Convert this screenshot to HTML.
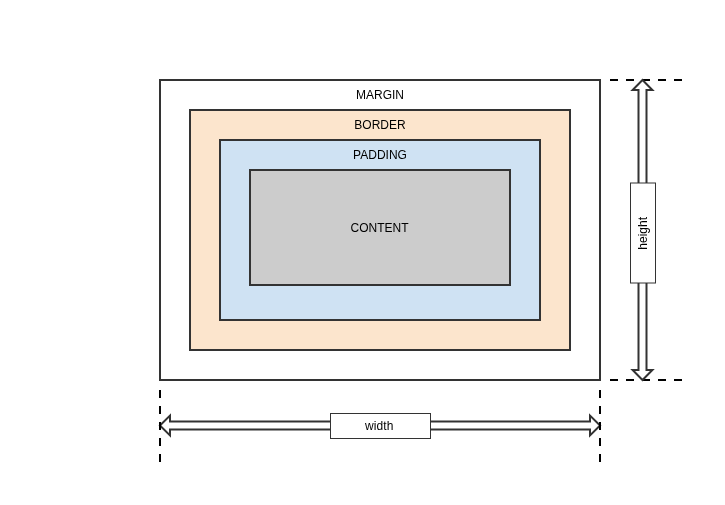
<!DOCTYPE html>
<html>
<head>
<meta charset="utf-8">
<title>Box model</title>
<style>
html,body{margin:0;padding:0;background:#ffffff;}
body{width:725px;height:505px;overflow:hidden;font-family:"Liberation Sans",sans-serif;}
svg{display:block;will-change:transform;}
text{font-family:"Liberation Sans",sans-serif;font-size:12px;fill:#000000;}
</style>
</head>
<body>
<svg width="725" height="505" viewBox="0 0 725 505">
  <rect x="0" y="0" width="725" height="505" fill="#ffffff"/>
  <!-- margin -->
  <rect x="160" y="80" width="440" height="300" fill="#ffffff" stroke="#333333" stroke-width="2"/>
  <!-- border -->
  <rect x="190" y="110" width="380" height="240" fill="#fce5cd" stroke="#333333" stroke-width="2"/>
  <!-- padding -->
  <rect x="220" y="140" width="320" height="180" fill="#cfe2f3" stroke="#333333" stroke-width="2"/>
  <!-- content -->
  <rect x="250" y="170" width="260" height="115" fill="#cccccc" stroke="#333333" stroke-width="2"/>

  <text x="380" y="99" text-anchor="middle">MARGIN</text>
  <text x="380" y="129" text-anchor="middle">BORDER</text>
  <text x="380" y="159" text-anchor="middle">PADDING</text>
  <text x="379.6" y="231.5" text-anchor="middle">CONTENT</text>

  <!-- dashed guides -->
  <path d="M610 80H690" stroke="#000000" stroke-width="2" stroke-dasharray="8 8" fill="none"/>
  <path d="M610 380H690" stroke="#000000" stroke-width="2" stroke-dasharray="8 8" fill="none"/>

  <!-- vertical flex arrow -->
  <path d="M642.5 79.95 L652.4 90 L646.5 90 L646.5 370 L652.4 370 L642.5 380.05 L632.6 370 L638.5 370 L638.5 90 L632.6 90 Z" fill="#ffffff" stroke="#333333" stroke-width="2" stroke-miterlimit="10" stroke-linejoin="miter"/>
  <!-- horizontal flex arrow -->
  <path d="M159.95 425.5 L170 415.6 L170 421.5 L590 421.5 L590 415.6 L600.05 425.5 L590 435.4 L590 429.5 L170 429.5 L170 435.4 Z" fill="#ffffff" stroke="#333333" stroke-width="2" stroke-miterlimit="10" stroke-linejoin="miter"/>

  <!-- vertical dashed guides (over arrow tips) -->
  <path d="M160 390V470" stroke="#000000" stroke-width="2" stroke-dasharray="8 8" fill="none"/>
  <path d="M600 390V470" stroke="#000000" stroke-width="2" stroke-dasharray="8 8" fill="none"/>

  <!-- label boxes -->
  <rect x="330.5" y="413.5" width="100" height="25" fill="#ffffff" stroke="#333333" stroke-width="1"/>
  <text x="379.3" y="430" text-anchor="middle" letter-spacing="0.15">width</text>
  <rect x="630.5" y="183" width="25" height="100" fill="#ffffff" stroke="#333333" stroke-width="1"/>
  <text transform="translate(647 233.3) rotate(-90)" x="0" y="0" text-anchor="middle">height</text>
</svg>
</body>
</html>
